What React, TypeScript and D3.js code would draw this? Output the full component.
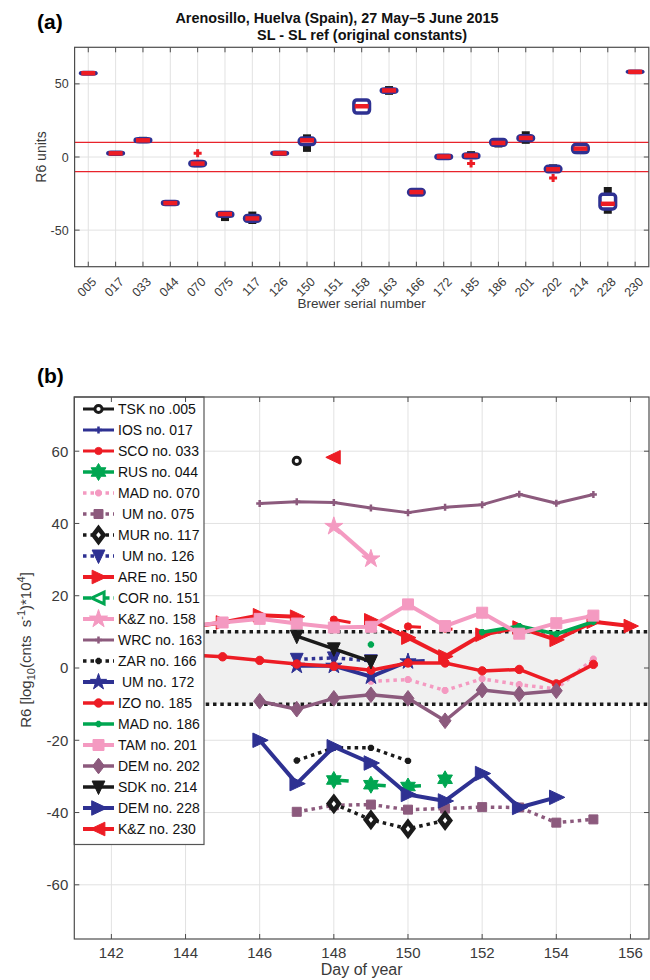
import { useEffect, useRef } from 'react';
import * as d3 from 'd3';

// ---------- panel (a): SL - SL ref, box statistics per Brewer ----------
const BREWERS = ['005', '017', '033', '044', '070', '075', '117', '126', '150', '151', '158', '163', '166', '172', '185', '186', '201', '202', '214', '228', '230'];
const BOX_MEDIAN = [57.3, 2.5, 11.4, -31.5, -4.5, -39, -42, 2.5, 11.4, null, 34.7, 45.5, -24, 0.3, 1, 9.6, 13, -8.4, 5.7, -32, 58.2];
const BOX_Q1 = [56.8, 1.8, 10.5, -32.5, -6, -40.5, -44, 1.8, 8.5, null, 30, 44.3, -26, -1, -0.5, 8, 11.3, -10, 3, -35.5, 57.7];
const BOX_Q3 = [57.8, 3.2, 12.5, -30.5, -3, -38, -40, 3.2, 13, null, 39, 46.5, -22.3, 1.2, 2, 12, 14.5, -6.3, 8.5, -25.5, 58.7];
const WHISKER_LO = [57, 1.5, 9.5, -32.8, -7, -43.8, -45.8, 1.5, 3.5, null, 30, 42.5, -26.5, -2, -1, 6.5, 9, -10.5, 2, -38.8, 58];
const WHISKER_HI = [57.6, 3.5, 13.8, -30.3, -2, -37, -37.3, 3.5, 15.5, null, 39, 48.5, -22, 1.5, 4, 13, 17.6, -5, 9, -20.5, 58.4];
const OUTLIER_BREWER = ['070', '185', '202'];
const OUTLIER_VALUE = [2.5, -4.5, -14.4];
const Y_TICKS_A = [-50, 0, 50];
const LIMITS = [-10, 10];

// ---------- panel (b): daily R6 per instrument [day of year, R6] ----------
type Pt = [number, number | null];
const TSK_005: Pt[] = [[147, 57.3]];
const IOS_017: Pt[] = [[150, 1.9], [150.45, 2.1]];
const SCO_033: Pt[] = [[148, 13.4], [148.45, 12.6], [149, null], [150, 11.5], [150.35, 11.3], [150.6, null], [150.85, 11.0], [151, 10.9], [151.2, 10.7]];
const RUS_044: Pt[] = [[148, -31], [148.4, -31.3], [148.5, null], [149, -32.3], [149.4, -32.6], [149.5, null], [150, -32.8], [150.35, -32.6], [150.5, null], [151, -30.8]];
const MAD_070: Pt[] = [[149, -3.7], [150, -3.2], [151, -6.2], [152, -3], [153, -4.6], [154, -5.8], [155, 2.5]];
const UM_075: Pt[] = [[147, -39.8], [148, -38], [149, -37.8], [150, -39.2], [151, -38.9], [152, -38.5], [153, -38.6], [154, -42.8], [155, -41.9]];
const MUR_117: Pt[] = [[148, -37.6], [149, -42], [150, -44.5], [151, -42.2]];
const UM_126: Pt[] = [[147, 2.4], [148, 2.8], [149, 2.0]];
const ARE_150: Pt[] = [[144, 11.2], [145, 12.6], [146, 14.6], [147, 14.2], [148, null], [149, 13.2], [150, 8.4], [151, 3.2], [152, 9.2], [153, 11.2], [154, 7.8], [155, 12.8], [156, 11.6]];
const COR_151: Pt[] = [];
const KZ_158: Pt[] = [[148, 39.2], [149, 30.2]];
const WRC_163: Pt[] = [[146, 45.5], [147, 46], [148, 45.8], [149, 44.3], [150, 43], [151, 44.5], [152, 45.2], [153, 48.1], [154, 45.6], [155, 48]];
const ZAR_166: Pt[] = [[147, -25.6], [148, -22.1], [149, -22.1], [150, -25.7]];
const UM_172: Pt[] = [[147, 0.6], [148, 0.6], [149, -2.4], [150, 1.8]];
const IZO_185: Pt[] = [[144, 3.7], [145, 3.1], [146, 2.1], [147, 1.1], [148, 0.5], [149, -0.6], [150, 1.4], [151, 1.4], [152, -0.8], [153, -0.4], [154, -4.4], [155, 1.0]];
const MAD_186: Pt[] = [[149, 6.5], [150, null], [152, 9.9], [153, 11.6], [154, 9.4], [155, 12.8]];
const TAM_201: Pt[] = [[144, 11.4], [145, 12.6], [146, 13.6], [147, 12.3], [148, 11.2], [149, 11.4], [150, 17.6], [151, 11.6], [152, 15.3], [153, 9.5], [154, 12.4], [155, 14.5]];
const DEM_202: Pt[] = [[146, -9.2], [147, -11.4], [148, -8.4], [149, -7.4], [150, -8.4], [151, -14.6], [152, -6.1], [153, -7.2], [154, -6.3]];
const SDK_214: Pt[] = [[147, 8.8], [148, 5.3], [149, 1.8]];
const DEM_228: Pt[] = [[146, -20], [147, -32], [148, -21.8], [149, -26.3], [150, -35], [151, -36.8], [152, -29.2], [153, -38.6], [154, -35.8]];
const KZ_230: Pt[] = [[148, 58.3]];
const X_TICKS_B = [142, 144, 146, 148, 150, 152, 154, 156];
const Y_TICKS_B = [-60, -40, -20, 0, 20, 40, 60];

const NAVY = '#2e3192';
const RED = '#ed1c24';
const GREEN = '#00a651';
const PINK = '#f49ac1';
const MAUVE = '#8c5a7d';
const BLACK = '#1a1a1a';
const AXIS = '#4d4d4d';
const GRID = '#e2e2e2';
const TXT = '#3a3a3a';
const FONT = "'Liberation Sans', Arial, Helvetica, sans-serif";

interface Series {
  name: string;
  data: Pt[];
  color: string;
  dash: string | null;
  marker: string;
  size: number;
  lw: number;
  mfill?: string;
  mlw?: number;
}

const DOT = '3.5,4';
const SERIES: Series[] = [
  { name: 'TSK no .005', data: TSK_005, color: BLACK, dash: null, marker: 'o', size: 3.6, lw: 3, mfill: '#fff', mlw: 3 },
  { name: 'IOS no. 017', data: IOS_017, color: NAVY, dash: null, marker: '+', size: 3.5, lw: 3 },
  { name: 'SCO no. 033', data: SCO_033, color: RED, dash: null, marker: '.', size: 3.6, lw: 3 },
  { name: 'RUS no. 044', data: RUS_044, color: GREEN, dash: null, marker: 'h', size: 8.5, lw: 3.5 },
  { name: 'MAD no. 070', data: MAD_070, color: PINK, dash: DOT, marker: '*', size: 3.5, lw: 3.5 },
  { name: ' UM no. 075', data: UM_075, color: MAUVE, dash: DOT, marker: 's', size: 4.5, lw: 3.5 },
  { name: 'MUR no. 117', data: MUR_117, color: BLACK, dash: DOT, marker: 'd', size: 6, lw: 3.5, mfill: '#fff', mlw: 4.5 },
  { name: ' UM no. 126', data: UM_126, color: NAVY, dash: DOT, marker: 'v', size: 7.5, lw: 3.5 },
  { name: 'ARE no. 150', data: ARE_150, color: RED, dash: null, marker: '>', size: 8, lw: 4 },
  { name: 'COR no. 151', data: COR_151, color: GREEN, dash: '8,4,2.5,4', marker: '<', size: 7, lw: 3.5, mfill: '#fff', mlw: 3 },
  { name: 'K&Z no. 158', data: KZ_158, color: PINK, dash: null, marker: 'p', size: 9.5, lw: 4 },
  { name: 'WRC no. 163', data: WRC_163, color: MAUVE, dash: null, marker: '+', size: 3.5, lw: 3 },
  { name: 'ZAR no. 166', data: ZAR_166, color: BLACK, dash: DOT, marker: '*', size: 3.2, lw: 3.5 },
  { name: ' UM no. 172', data: UM_172, color: NAVY, dash: null, marker: 'p', size: 8.5, lw: 4 },
  { name: 'IZO no. 185', data: IZO_185, color: RED, dash: null, marker: '.', size: 4.2, lw: 3.5 },
  { name: 'MAD no. 186', data: MAD_186, color: GREEN, dash: null, marker: '*', size: 3.2, lw: 3.5 },
  { name: 'TAM no. 201', data: TAM_201, color: PINK, dash: null, marker: 's', size: 5.5, lw: 4 },
  { name: 'DEM no. 202', data: DEM_202, color: MAUVE, dash: null, marker: 'd', size: 7, lw: 3.5 },
  { name: 'SDK no. 214', data: SDK_214, color: BLACK, dash: null, marker: 'v', size: 7.5, lw: 3.5 },
  { name: 'DEM no. 228', data: DEM_228, color: NAVY, dash: null, marker: '>', size: 8.5, lw: 4 },
  { name: 'K&Z no. 230', data: KZ_230, color: RED, dash: null, marker: '<', size: 8, lw: 4 },
];

function star(p: d3.Path, n: number, R: number, r: number) {
  for (let k = 0; k < 2 * n; k++) {
    const a = -Math.PI / 2 + (k * Math.PI) / n;
    const rr = k % 2 === 0 ? R : r;
    if (k === 0) p.moveTo(rr * Math.cos(a), rr * Math.sin(a));
    else p.lineTo(rr * Math.cos(a), rr * Math.sin(a));
  }
  p.closePath();
}

function markerPath(m: string, r: number) {
  const p = d3.path();
  const poly = (pts: number[][]) => {
    pts.forEach(([x, y], i) => (i ? p.lineTo(x, y) : p.moveTo(x, y)));
    p.closePath();
  };
  switch (m) {
    case 'o':
    case '.':
      p.moveTo(r, 0);
      p.arc(0, 0, r, 0, 2 * Math.PI);
      break;
    case 's':
      p.rect(-r, -r, 2 * r, 2 * r);
      break;
    case 'd':
      poly([[0, -r * 1.12], [r * 0.85, 0], [0, r * 1.12], [-r * 0.85, 0]]);
      break;
    case '>':
      poly([[r, 0], [-r * 0.8, -r * 0.85], [-r * 0.8, r * 0.85]]);
      break;
    case '<':
      poly([[-r, 0], [r * 0.8, -r * 0.85], [r * 0.8, r * 0.85]]);
      break;
    case 'v':
      poly([[0, r], [-r * 0.85, -r * 0.8], [r * 0.85, -r * 0.8]]);
      break;
    case 'p':
      star(p, 5, r, r * 0.382);
      break;
    case 'h':
      star(p, 6, r, r * 0.577);
      break;
    case '+':
      p.moveTo(-r, 0); p.lineTo(r, 0);
      p.moveTo(0, -r); p.lineTo(0, r);
      break;
    case '*': {
      const q = r * 0.7;
      p.moveTo(-r, 0); p.lineTo(r, 0);
      p.moveTo(0, -r); p.lineTo(0, r);
      p.moveTo(-q, -q); p.lineTo(q, q);
      p.moveTo(-q, q); p.lineTo(q, -q);
      break;
    }
  }
  return p.toString();
}

type Sel = d3.Selection<any, unknown, null, undefined>;

function drawMarker(g: Sel, s: Series, x: number, y: number) {
  const open = s.marker === '+' || s.marker === '*';
  g.append('path')
    .attr('d', markerPath(s.marker, s.size))
    .attr('transform', `translate(${x},${y})`)
    .attr('fill', open ? 'none' : s.mfill ?? s.color)
    .attr('stroke', s.color)
    .attr('stroke-width', open ? 2.5 : s.mlw ?? 1)
    .attr('stroke-linejoin', 'miter');
}

function drawAxesBox(g: Sel, l: number, r: number, t: number, b: number) {
  g.append('rect')
    .attr('x', l).attr('y', t).attr('width', r - l).attr('height', b - t)
    .attr('fill', 'none').attr('stroke', AXIS).attr('stroke-width', 1.2);
}

function drawPanelA(svg: Sel) {
  const L = 74.6, R = 648.8, T = 47.3, B = 266.7;
  const x = d3.scaleBand<string>().domain(BREWERS).range([L, R]);
  const y = d3.scaleLinear().domain([-75, 75]).range([B, T]);
  const cx = (b: string) => x(b)! + x.bandwidth() / 2;
  const g = svg.append('g');

  // grid
  g.append('g').selectAll('line').data(BREWERS).join('line')
    .attr('x1', d => cx(d)).attr('x2', d => cx(d)).attr('y1', T).attr('y2', B)
    .attr('stroke', GRID).attr('stroke-width', 1);
  g.append('g').selectAll('line').data(Y_TICKS_A).join('line')
    .attr('x1', L).attr('x2', R).attr('y1', d => y(d)).attr('y2', d => y(d))
    .attr('stroke', GRID).attr('stroke-width', 1);

  // limits
  g.append('g').selectAll('line').data(LIMITS).join('line')
    .attr('x1', L).attr('x2', R).attr('y1', d => y(d)).attr('y2', d => y(d))
    .attr('stroke', '#e8232b').attr('stroke-width', 1.2);

  const half = 7.8;
  BREWERS.forEach((b, i) => {
    const med = BOX_MEDIAN[i];
    if (med == null) return;
    const c = cx(b);
    // whisker
    g.append('line')
      .attr('x1', c).attr('x2', c)
      .attr('y1', y(WHISKER_LO[i]!)).attr('y2', y(WHISKER_HI[i]!))
      .attr('stroke', BLACK).attr('stroke-width', 8);
    const top = y(BOX_Q3[i]!), bot = y(BOX_Q1[i]!);
    g.append('rect')
      .attr('x', c - half).attr('y', top).attr('width', half * 2).attr('height', Math.max(bot - top, 0.5))
      .attr('rx', 3).attr('ry', 3)
      .attr('fill', '#fff').attr('stroke', NAVY).attr('stroke-width', 3.5);
    g.append('line')
      .attr('x1', c - 7).attr('x2', c + 7).attr('y1', y(med)).attr('y2', y(med))
      .attr('stroke', RED).attr('stroke-width', 4.5);
  });

  OUTLIER_BREWER.forEach((b, i) => {
    g.append('path')
      .attr('d', markerPath('+', 4))
      .attr('transform', `translate(${cx(b)},${y(OUTLIER_VALUE[i])})`)
      .attr('stroke', RED).attr('stroke-width', 3).attr('fill', 'none');
  });

  drawAxesBox(g, L, R, T, B);
  // ticks
  Y_TICKS_A.forEach(v => {
    g.append('line').attr('x1', L).attr('x2', L + 5).attr('y1', y(v)).attr('y2', y(v)).attr('stroke', AXIS);
    g.append('line').attr('x1', R - 5).attr('x2', R).attr('y1', y(v)).attr('y2', y(v)).attr('stroke', AXIS);
    g.append('text').attr('x', L - 6).attr('y', y(v)).attr('dy', '0.36em')
      .attr('text-anchor', 'end').attr('font-size', 12.5).attr('fill', TXT).text(v);
  });
  BREWERS.forEach(b => {
    const c = cx(b);
    g.append('line').attr('x1', c).attr('x2', c).attr('y1', B).attr('y2', B - 5).attr('stroke', AXIS);
    g.append('line').attr('x1', c).attr('x2', c).attr('y1', T).attr('y2', T + 5).attr('stroke', AXIS);
    g.append('text')
      .attr('transform', `translate(${c + 9},${B + 16}) rotate(-45)`)
      .attr('text-anchor', 'end').attr('font-size', 12.5).attr('fill', TXT).text(b);
  });

  g.append('text').attr('x', (L + R) / 2).attr('y', 308).attr('text-anchor', 'middle')
    .attr('font-size', 13.5).attr('fill', TXT).text('Brewer serial number');
  g.append('text').attr('transform', `translate(46,${(T + B) / 2}) rotate(-90)`).attr('text-anchor', 'middle')
    .attr('font-size', 14).attr('fill', TXT).text('R6 units');

  g.append('text').attr('x', 337).attr('y', 23).attr('text-anchor', 'middle')
    .attr('font-weight', 'bold').attr('font-size', 15).attr('fill', '#111')
    .attr('textLength', 323).attr('lengthAdjust', 'spacingAndGlyphs')
    .text('Arenosillo, Huelva (Spain), 27 May–5 June 2015');
  g.append('text').attr('x', 362).attr('y', 40).attr('text-anchor', 'middle')
    .attr('font-weight', 'bold').attr('font-size', 15).attr('fill', '#111')
    .attr('textLength', 210).attr('lengthAdjust', 'spacingAndGlyphs')
    .text('SL - SL ref (original constants)');
  g.append('text').attr('x', 37).attr('y', 29)
    .attr('font-weight', 'bold').attr('font-size', 21).attr('fill', '#000').text('(a)');
}

function drawPanelB(svg: Sel) {
  const L = 74.3, R = 649, T = 397, B = 939;
  const x = d3.scaleLinear().domain([141, 156.5]).range([L, R]);
  const y = d3.scaleLinear().domain([-75, 75]).range([B, T]);
  const g = svg.append('g');

  svg.append('defs').append('clipPath').attr('id', 'clipB')
    .append('rect').attr('x', L).attr('y', T).attr('width', R - L).attr('height', B - T);

  // grid
  g.append('g').selectAll('line').data(X_TICKS_B).join('line')
    .attr('x1', d => x(d)).attr('x2', d => x(d)).attr('y1', T).attr('y2', B)
    .attr('stroke', GRID).attr('stroke-width', 1);
  g.append('g').selectAll('line').data(Y_TICKS_B).join('line')
    .attr('x1', L).attr('x2', R).attr('y1', d => y(d)).attr('y2', d => y(d))
    .attr('stroke', GRID).attr('stroke-width', 1);

  // +-10 band
  g.append('rect')
    .attr('x', L).attr('y', y(LIMITS[1])).attr('width', R - L).attr('height', y(LIMITS[0]) - y(LIMITS[1]))
    .attr('fill', '#f0f0f0');
  g.append('g').selectAll('line').data(LIMITS).join('line')
    .attr('x1', L).attr('x2', R).attr('y1', d => y(d)).attr('y2', d => y(d))
    .attr('stroke', BLACK).attr('stroke-width', 3.5).attr('stroke-dasharray', '3.5,3.8');

  const plot = g.append('g').attr('clip-path', 'url(#clipB)');
  const line = d3.line<Pt>()
    .defined(d => d[1] != null)
    .x(d => x(d[0]))
    .y(d => y(d[1] as number));

  SERIES.forEach(s => {
    const sg = plot.append('g');
    sg.append('path')
      .datum(s.data)
      .attr('d', line)
      .attr('fill', 'none')
      .attr('stroke', s.color)
      .attr('stroke-width', s.lw)
      .attr('stroke-dasharray', s.dash)
      .attr('stroke-linejoin', 'round');
    // daily values carry a marker, intermediate samples only the line
    s.data
      .filter(d => d[1] != null && Number.isInteger(d[0]))
      .forEach(d => drawMarker(sg, s, x(d[0]), y(d[1] as number)));
  });

  // legend
  const legTop = T, legBottom = 844.5, legRight = 204;
  const lg = g.append('g');
  lg.append('rect')
    .attr('x', L).attr('y', legTop).attr('width', legRight - L).attr('height', legBottom - legTop)
    .attr('fill', '#fff').attr('stroke', '#555').attr('stroke-width', 1.2);
  SERIES.forEach((s, i) => {
    const ly = 409 + i * 21;
    lg.append('line')
      .attr('x1', 83).attr('x2', 114).attr('y1', ly).attr('y2', ly)
      .attr('stroke', s.color).attr('stroke-width', s.lw).attr('stroke-dasharray', s.dash);
    drawMarker(lg, s, 98.5, ly);
    lg.append('text').attr('x', 118).attr('y', ly).attr('dy', '0.36em')
      .attr('font-size', 14).attr('fill', '#111').style('white-space', 'pre').text(s.name);
  });

  drawAxesBox(g, L, R, T, B);
  Y_TICKS_B.forEach(v => {
    g.append('line').attr('x1', L).attr('x2', L + 5).attr('y1', y(v)).attr('y2', y(v)).attr('stroke', AXIS);
    g.append('line').attr('x1', R - 5).attr('x2', R).attr('y1', y(v)).attr('y2', y(v)).attr('stroke', AXIS);
    g.append('text').attr('x', L - 6).attr('y', y(v)).attr('dy', '0.36em')
      .attr('text-anchor', 'end').attr('font-size', 15).attr('fill', TXT).text(v);
  });
  X_TICKS_B.forEach(v => {
    g.append('line').attr('x1', x(v)).attr('x2', x(v)).attr('y1', B).attr('y2', B - 5).attr('stroke', AXIS);
    g.append('line').attr('x1', x(v)).attr('x2', x(v)).attr('y1', T).attr('y2', T + 5).attr('stroke', AXIS);
    g.append('text').attr('x', x(v)).attr('y', 958).attr('text-anchor', 'middle')
      .attr('font-size', 15).attr('fill', TXT).text(v);
  });

  g.append('text').attr('x', (L + R) / 2).attr('y', 975).attr('text-anchor', 'middle')
    .attr('font-size', 16).attr('fill', TXT).text('Day of year');

  const yl = g.append('text')
    .attr('transform', 'translate(31,650) rotate(-90)')
    .attr('text-anchor', 'middle').attr('font-size', 15).attr('fill', TXT)
    .style('white-space', 'pre');
  yl.append('tspan').text('R6 [log');
  yl.append('tspan').attr('dy', 4).attr('font-size', 11).text('10');
  yl.append('tspan').attr('dy', -4).text('(cnts  s');
  yl.append('tspan').attr('dy', -6).attr('font-size', 11).text('-1');
  yl.append('tspan').attr('dy', 6).text(')*10');
  yl.append('tspan').attr('dy', -6).attr('font-size', 11).text('4');
  yl.append('tspan').attr('dy', 6).text(']');

  g.append('text').attr('x', 37).attr('y', 383)
    .attr('font-weight', 'bold').attr('font-size', 21).attr('fill', '#000').text('(b)');
}

export default function App() {
  const ref = useRef<SVGSVGElement>(null);

  useEffect(() => {
    if (!ref.current) return;
    const svg = d3.select(ref.current);
    svg.selectAll('*').remove();
    svg.attr('font-family', FONT);
    drawPanelA(svg as unknown as Sel);
    drawPanelB(svg as unknown as Sel);
  }, []);

  return (
    <svg
      ref={ref}
      width={650}
      height={980}
      style={{ position: 'absolute', left: 0, top: 0, background: '#fff', display: 'block' }}
    />
  );
}
